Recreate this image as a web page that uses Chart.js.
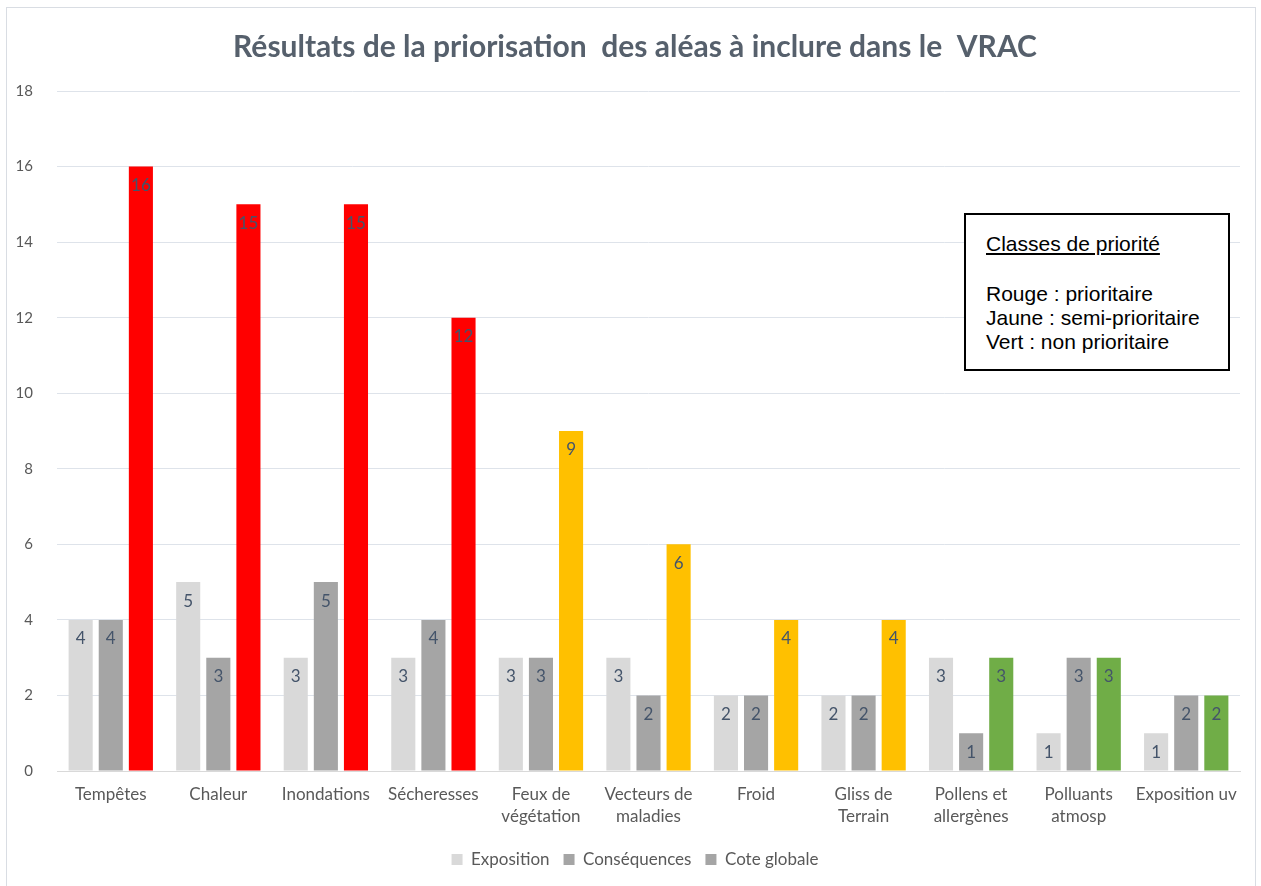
<!DOCTYPE html>
<html>
<head>
<meta charset="utf-8">
<script src="https://cdn.jsdelivr.net/npm/chart.js@4.4.0/dist/chart.umd.min.js"></script>
<style>
  html, body { margin: 0; padding: 0; background: #ffffff; }
  #wrap { position: relative; width: 1261px; height: 886px; overflow: hidden; }
  #frame { position: absolute; left: 6px; top: 7px; width: 1250px; height: 900px; border: 1.5px solid #D9DDE3; box-sizing: border-box; }
  #c { position: absolute; left: 0; top: 0; }
  #note { position: absolute; left: 964px; top: 213px; width: 266px; height: 158px; box-sizing: border-box;
          border: 2px solid #000; background: #fff; font-family: "Liberation Sans", Arial, sans-serif;
          font-size: 21px; color: #000; padding: 17px 0 0 20px; line-height: 24px; }
  #note .h { text-decoration: underline; margin-bottom: 26px; }
</style>
</head>
<body>
<div id="wrap">
  <div id="frame"></div>
  <canvas id="c" width="1261" height="886"></canvas>
  <div id="note">
    <div class="h">Classes de priorité</div>
    <div>Rouge : prioritaire</div>
    <div>Jaune : semi-prioritaire</div>
    <div>Vert : non prioritaire</div>
  </div>
</div>
<script>
const titleText = "Résultats de la priorisation  des aléas à inclure dans le  VRAC";
const categories = [
  "Tempêtes", "Chaleur", "Inondations", "Sécheresses",
  ["Feux de", "végétation"], ["Vecteurs de", "maladies"], "Froid",
  ["Gliss de", "Terrain"], ["Pollens et", "allergènes"], ["Polluants", "atmosp"], "Exposition uv"
];
const seriesNames = ["Exposition", "Conséquences", "Cote globale"];
const exposition   = [4, 5, 3, 3, 3, 3, 2, 2, 3, 1, 1];
const consequences = [4, 3, 5, 4, 3, 2, 2, 2, 1, 3, 2];
const coteGlobale  = [16, 15, 15, 12, 9, 6, 4, 4, 3, 3, 2];
const priorityClass = ["r", "r", "r", "r", "j", "j", "j", "j", "v", "v", "v"];
const yTicks = [0, 2, 4, 6, 8, 10, 12, 14, 16, 18];

const classColors = { r: "#FF0000", j: "#FFC000", v: "#70AD47" };
const txt = "#595959";
const FONT = "Lato, 'Open Sans', sans-serif";

const valueLabels = {
  id: "valueLabels",
  afterDatasetsDraw(chart) {
    const ctx = chart.ctx;
    ctx.save();
    ctx.font = "17px " + FONT;
    ctx.fillStyle = "#44546A";
    ctx.textAlign = "center";
    ctx.textBaseline = "middle";
    chart.data.datasets.forEach((ds, di) => {
      const meta = chart.getDatasetMeta(di);
      meta.data.forEach((el, i) => {
        ctx.fillText(String(ds.data[i]), el.x, el.y + 19);
      });
    });
    ctx.restore();
  }
};

new Chart(document.getElementById("c"), {
  type: "bar",
  data: {
    labels: categories,
    datasets: [
      { label: seriesNames[0], data: exposition, backgroundColor: "#D9D9D9" },
      { label: seriesNames[1], data: consequences, backgroundColor: "#A5A5A5" },
      { label: seriesNames[2], data: coteGlobale, backgroundColor: priorityClass.map(k => classColors[k]) }
    ]
  },
  options: {
    responsive: false,
    animation: false,
    devicePixelRatio: 1,
    layout: { padding: { left: 9, right: 0, top: 0, bottom: 8 } },
    datasets: { bar: { categoryPercentage: 0.84, barPercentage: 0.8 } },
    scales: {
      x: {
        grid: { display: false, drawTicks: false },
        border: { display: true, color: "#D9D9D9", width: 1 },
        ticks: { color: txt, font: { family: FONT, size: 17, lineHeight: 1.3 }, padding: 12, maxRotation: 0, autoSkip: false },
        afterFit(s) { s.height = 66; }
      },
      y: {
        min: 0, max: 18,
        afterBuildTicks(s) { s.ticks = yTicks.map(v => ({ value: v })); },
        grid: { color: "#DEE3EA", drawTicks: false },
        border: { display: false },
        ticks: { color: txt, font: { family: FONT, size: 15 }, padding: 24 },
        afterFit(s) { s.width = 48; }
      },
      yRight: {
        type: "linear", position: "right", min: 0, max: 18,
        grid: { display: false, drawTicks: false },
        border: { display: false },
        ticks: { display: false },
        afterFit(s) { s.width = 21; }
      }
    },
    plugins: {
      title: {
        display: true, text: titleText, color: "#56606C",
        font: { family: FONT, size: 30, weight: "bold" },
        padding: { top: 29, bottom: 26 }
      },
      legend: {
        position: "bottom",
        labels: {
          color: txt, font: { family: FONT, size: 17 },
          boxWidth: 11, boxHeight: 11, padding: 14,
          generateLabels(chart) {
            const fills = ["#D9D9D9", "#A5A5A5", "#A5A5A5"];
            return chart.data.datasets.map((ds, i) => ({
              text: ds.label, fillStyle: fills[i], strokeStyle: fills[i], lineWidth: 0,
              fontColor: txt, datasetIndex: i, hidden: false
            }));
          }
        }
      },
      tooltip: { enabled: false }
    }
  },
  plugins: [valueLabels]
});
</script>
</body>
</html>
